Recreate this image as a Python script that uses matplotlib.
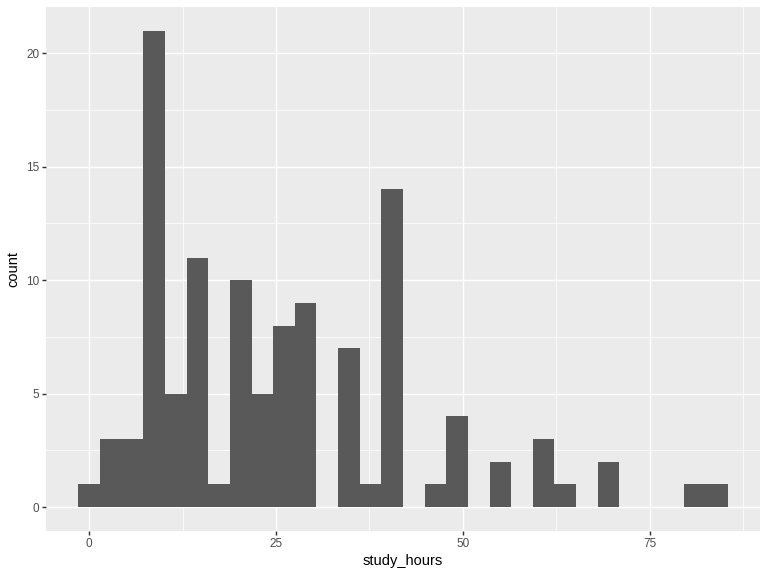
import matplotlib
matplotlib.use("Agg")
import matplotlib.pyplot as plt
import numpy as np

plt.rcParams['font.family'] = ['Liberation Sans', 'DejaVu Sans']

# histogram of study_hours, 30 bins (ggplot default), data range 0..84
data_min, data_max = 0, 84
counts = [1, 3, 3, 21, 5, 11, 1, 10, 5, 8,
          9, 0, 7, 1, 14, 0, 1, 4, 0, 2,
          0, 3, 1, 0, 2, 0, 0, 0, 1, 1]
x_ticks = [0, 25, 50, 75]
y_ticks = [0, 5, 10, 15, 20]

n_bins = len(counts)
width = (data_max - data_min) / (n_bins - 1)
centers = data_min + width * np.arange(n_bins)
edges = np.append(centers - width / 2, centers[-1] + width / 2)

fig = plt.figure(figsize=(8, 6), dpi=96)
ax = fig.add_axes([46 / 768, 45 / 576, 714 / 768, 524.3 / 576])
ax.set_facecolor('#EBEBEB')

ax.hist(centers, bins=edges, weights=counts, color='#595959', zorder=3)

lo, hi = edges[0], edges[-1]
pad = (hi - lo) * 0.05
ax.set_xlim(lo - pad, hi + pad)
ax.set_ylim(-max(counts) * 0.05, max(counts) * 1.05)

ax.set_xticks(x_ticks)
ax.set_yticks(y_ticks)
ax.set_xticks([12.5, 37.5, 62.5, 87.5], minor=True)
ax.set_yticks([2.5, 7.5, 12.5, 17.5], minor=True)
ax.grid(which='major', color='white', linewidth=1.07, zorder=1)
ax.grid(which='minor', color='white', linewidth=0.53, zorder=1)
ax.set_axisbelow(True)

for s in ax.spines.values():
    s.set_visible(False)
ax.tick_params(which='major', length=2.75, width=1.07, color='#333333',
               labelcolor='#4D4D4D', labelsize=8.8, pad=2.2)
ax.tick_params(which='minor', length=0)

ax.set_xlabel('study_hours', fontsize=11, color='black', labelpad=3)
ax.set_ylabel('count', fontsize=11, color='black', labelpad=4)

fig.savefig('out.png', dpi=96)
